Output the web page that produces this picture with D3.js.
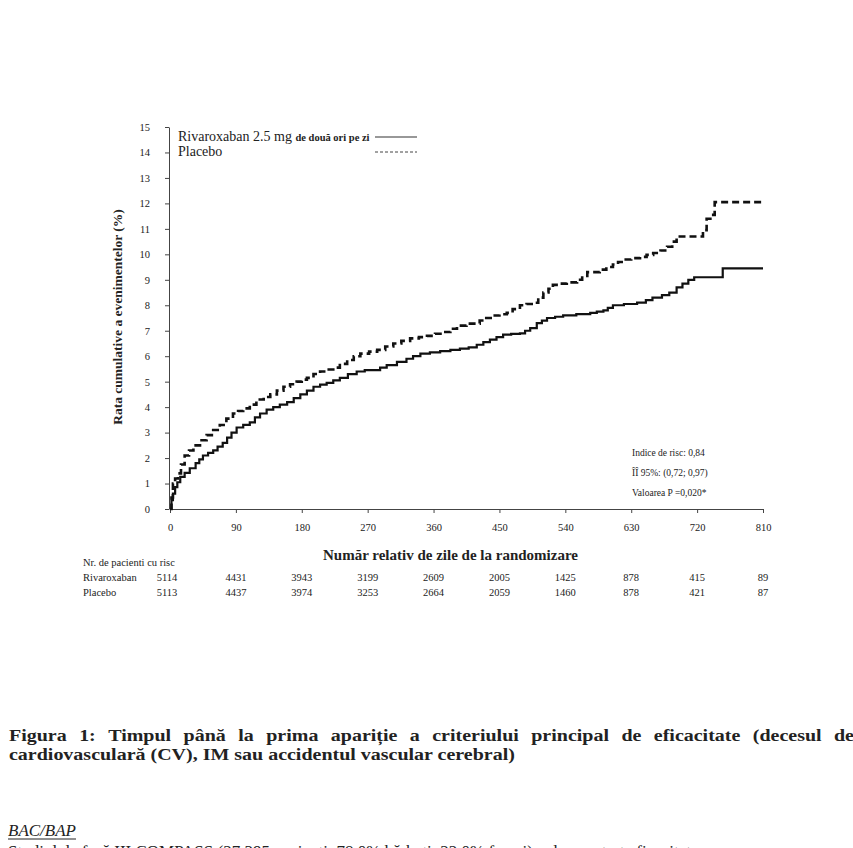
<!DOCTYPE html>
<html>
<head>
<meta charset="utf-8">
<script src="https://cdn.jsdelivr.net/npm/d3@7"></script>
<style>
  body { margin: 0; background: #fff; overflow: hidden; }
  svg { display: block; }
  text { font-family: "Liberation Serif", "Times New Roman", serif; fill: #222; }
</style>
</head>
<body>
<svg id="chart" width="853" height="848"></svg>
<script>
// Rivaroxaban curve (days, cumulative rate %)
const rivaDays = [0, 2, 4, 7, 10, 14, 20, 27, 35, 40, 45, 52, 59, 65, 72, 78, 84, 91, 100, 109, 116, 123, 132, 141, 150, 160,
  169, 178, 187, 196, 205, 214, 223, 232, 243, 255, 266, 287, 296, 310, 323, 332, 342, 355, 369, 383, 396, 408, 419, 428,
  437, 446, 455, 466, 478, 485, 492, 501, 508, 515, 526, 537, 555, 574, 583, 592, 598, 605, 620, 638, 650, 659, 672, 682,
  692, 700, 708, 716, 755, 810];
const rivaRate = [0, 0.35, 0.6, 0.86, 1.05, 1.26, 1.42, 1.6, 1.8, 1.95, 2.1, 2.2, 2.3, 2.45, 2.6, 2.8, 3.0, 3.2, 3.3, 3.4, 3.6, 3.75, 3.9, 4.0, 4.1, 4.2,
  4.35, 4.5, 4.65, 4.8, 4.88, 4.95, 5.05, 5.15, 5.3, 5.4, 5.45, 5.55, 5.65, 5.78, 5.9, 6.0, 6.1, 6.15, 6.2, 6.25, 6.3, 6.35, 6.45, 6.55,
  6.65, 6.75, 6.85, 6.88, 6.9, 7.0, 7.1, 7.3, 7.4, 7.5, 7.55, 7.6, 7.65, 7.7, 7.75, 7.8, 7.9, 8.0, 8.05, 8.1, 8.2, 8.3, 8.4, 8.5,
  8.7, 8.85, 9.0, 9.1, 9.45, 9.45];

// Placebo curve
const placeboDays = [0, 2, 4, 7, 11, 15, 20, 26, 32, 41, 50, 59, 68, 77, 86, 93, 100, 109, 118, 128, 137, 146, 155, 164, 173, 180,
  187, 196, 205, 214, 223, 232, 242, 251, 260, 272, 283, 294, 305, 316, 328, 340, 351, 362, 373, 383, 392, 405, 423, 432,
  441, 450, 460, 468, 478, 487, 496, 503, 510, 517, 523, 533, 542, 556, 563, 570, 587, 596, 605, 612, 619, 630, 642, 651,
  660, 670, 679, 686, 692, 728, 733, 742, 744, 810];
const placeboRate = [0, 0.45, 1.0, 1.2, 1.4, 1.75, 2.1, 2.3, 2.5, 2.7, 2.9, 3.1, 3.3, 3.55, 3.75, 3.85, 3.95, 4.1, 4.3, 4.4, 4.5, 4.65, 4.8, 4.9, 5.0, 5.08,
  5.15, 5.3, 5.4, 5.48, 5.55, 5.7, 5.85, 6.0, 6.1, 6.18, 6.25, 6.38, 6.5, 6.6, 6.7, 6.75, 6.8, 6.88, 6.95, 7.08, 7.2, 7.28, 7.4, 7.5,
  7.6, 7.65, 7.7, 7.85, 8.0, 8.05, 8.1, 8.3, 8.5, 8.65, 8.8, 8.85, 8.9, 9.0, 9.15, 9.3, 9.4, 9.5, 9.6, 9.7, 9.8, 9.85, 9.9, 9.98,
  10.05, 10.15, 10.3, 10.5, 10.7, 10.95, 11.4, 11.55, 12.05, 12.05];

// Ticks
const xTicks = [0, 90, 180, 270, 360, 450, 540, 630, 720, 810];
const yTicks = [0, 1, 2, 3, 4, 5, 6, 7, 8, 9, 10, 11, 12, 13, 14, 15];

// Number at risk
const riskGroups = ["Rivaroxaban", "Placebo"];
const rivaAtRisk = [5114, 4431, 3943, 3199, 2609, 2005, 1425, 878, 415, 89];
const placeboAtRisk = [5113, 4437, 3974, 3253, 2664, 2059, 1460, 878, 421, 87];

// Texts
const legendLabels = ["Rivaroxaban 2.5 mg ", "de două ori pe zi", "Placebo"];
const statsLines = ["Indice de risc: 0,84", "ÎÎ 95%: (0,72; 0,97)", "Valoarea P =0,020*"];
const yTitle = "Rata cumulative a evenimentelor (%)";
const xTitle = "Număr relativ de zile de la randomizare";
const riskTitle = "Nr. de pacienti cu risc";
const captionLine1 = "Figura 1: Timpul până la prima apariție a criteriului principal de eficacitate (decesul de";
const captionLine2 = "cardiovasculară (CV), IM sau accidentul vascular cerebral)";
const sectionTitle = "BAC/BAP";
const bodyLine = "Studiul de fază III COMPASS (27 395 pacienți, 78,0% bărbați, 22,0% femei) a demonstrat eficacitatea";

const svg = d3.select("#chart");

// Scales
const x = d3.scaleLinear().domain([0, 810]).range([170, 763]);
const y = d3.scaleLinear().domain([0, 15]).range([509, 127]);

// Y axis
const yAxis = svg.append("g")
  .attr("transform", "translate(169,0)")
  .call(d3.axisLeft(y).tickValues(yTicks).tickSize(4).tickSizeOuter(0).tickPadding(15));
yAxis.selectAll("text").style("font-size", "10.5px");
yAxis.selectAll("line, path").attr("stroke", "#444");

// X axis
const xAxis = svg.append("g")
  .attr("transform", "translate(0,509)")
  .call(d3.axisBottom(x).tickValues(xTicks).tickSize(4).tickSizeOuter(0).tickPadding(11));
xAxis.selectAll("text").style("font-size", "10.5px");
xAxis.selectAll("line, path").attr("stroke", "#444");

// Axis titles
svg.append("text")
  .attr("transform", "translate(122,317) rotate(-90)")
  .attr("text-anchor", "middle")
  .style("font-size", "13.5px")
  .style("font-weight", "bold")
  .text(yTitle);

svg.append("text")
  .attr("x", 323)
  .attr("y", 560)
  .style("font-size", "15px")
  .style("font-weight", "bold")
  .text(xTitle);

// Curves
const line = d3.line()
  .x(d => x(d[0]))
  .y(d => y(d[1]))
  .curve(d3.curveStepAfter);

svg.append("path")
  .datum(d3.zip(placeboDays, placeboRate))
  .attr("fill", "none")
  .attr("stroke", "#111")
  .attr("stroke-width", 2.6)
  .attr("stroke-dasharray", "7,4")
  .attr("d", line);

svg.append("path")
  .datum(d3.zip(rivaDays, rivaRate))
  .attr("fill", "none")
  .attr("stroke", "#111")
  .attr("stroke-width", 2.2)
  .attr("d", line);

// Legend
const leg = svg.append("text").attr("x", 178).attr("y", 141);
leg.append("tspan").style("font-size", "14px").text(legendLabels[0]);
leg.append("tspan").style("font-size", "10.5px").style("font-weight", "bold").text(legendLabels[1]);
svg.append("line")
  .attr("x1", 375).attr("x2", 417).attr("y1", 137).attr("y2", 137)
  .attr("stroke", "#333").attr("stroke-width", 1.2);

svg.append("text").attr("x", 178).attr("y", 156).style("font-size", "14px").text(legendLabels[2]);
svg.append("line")
  .attr("x1", 375).attr("x2", 417).attr("y1", 152).attr("y2", 152)
  .attr("stroke", "#444").attr("stroke-width", 1).attr("stroke-dasharray", "3,2");

// Statistics box
svg.selectAll("text.stat")
  .data(statsLines)
  .enter()
  .append("text")
  .attr("class", "stat")
  .attr("x", 632)
  .attr("y", (d, i) => 456 + i * 20)
  .style("font-size", "9.5px")
  .text(d => d);

// Number at risk table
svg.append("text").attr("x", 83).attr("y", 566).style("font-size", "10.5px").text(riskTitle);
[rivaAtRisk, placeboAtRisk].forEach((row, r) => {
  const yy = 581 + r * 15;
  svg.append("text").attr("x", 83).attr("y", yy).style("font-size", "10.5px").text(riskGroups[r]);
  svg.selectAll("text.risk" + r)
    .data(row)
    .enter()
    .append("text")
    .attr("class", "risk" + r)
    .attr("x", (d, i) => x(xTicks[i]) - (i === 0 ? 3 : 0))
    .attr("y", yy)
    .attr("text-anchor", "middle")
    .style("font-size", "10.5px")
    .text(d => d);
});

// Caption: 17px bold, stretched horizontally so line 2 spans its width; line 1 justified
const capSize = 17;
const cap = svg.append("g");
const probe = cap.append("text").style("font-size", capSize + "px").style("font-weight", "bold").text(captionLine2);
const stretch = 506 / probe.node().getComputedTextLength();
probe.remove();
cap.attr("transform", `translate(9,0) scale(${stretch},1)`);

const words = captionLine1.split(" ");
const widths = words.map(w => {
  const t = cap.append("text").style("font-size", capSize + "px").style("font-weight", "bold").text(w);
  const wd = t.node().getComputedTextLength();
  t.remove();
  return wd;
});
const span = (854 - 9) / stretch;
const gap = (span - d3.sum(widths)) / (words.length - 1);
let cx = 0;
words.forEach((w, i) => {
  cap.append("text")
    .attr("x", cx)
    .attr("y", 741)
    .style("font-size", capSize + "px")
    .style("font-weight", "bold")
    .text(w);
  cx += widths[i] + gap;
});

cap.append("text")
  .attr("x", 0)
  .attr("y", 760)
  .style("font-size", capSize + "px")
  .style("font-weight", "bold")
  .text(captionLine2);

// Section heading and cut-off body line
const sec = svg.append("text")
  .attr("x", 8)
  .attr("y", 836)
  .style("font-size", "17px")
  .style("font-style", "italic")
  .text(sectionTitle);
const secW = sec.node().getComputedTextLength();
svg.append("line")
  .attr("x1", 8).attr("x2", 8 + secW).attr("y1", 839).attr("y2", 839)
  .attr("stroke", "#222").attr("stroke-width", 1);

svg.append("text")
  .attr("x", 8)
  .attr("y", 857)
  .style("font-size", "17px")
  .text(bodyLine);
</script>
</body>
</html>
